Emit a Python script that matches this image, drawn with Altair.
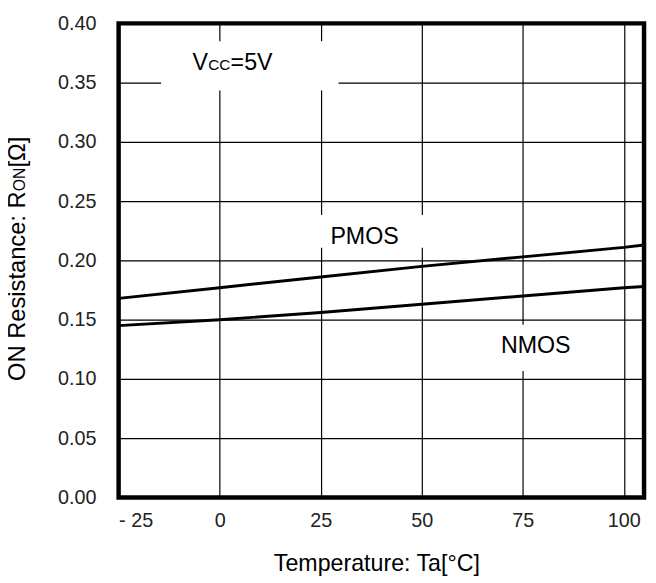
import altair as alt
import pandas as pd

# ---- data ----
temps = [-25, 0, 25, 50, 75, 100, 105]
pmos = [0.168, 0.177, 0.186, 0.195, 0.203, 0.211, 0.213]
nmos = [0.145, 0.150, 0.156, 0.163, 0.170, 0.177, 0.178]
x_ticks = [-25, 0, 25, 50, 75, 100]
y_ticks = [0.0, 0.05, 0.10, 0.15, 0.20, 0.25, 0.30, 0.35, 0.40]

series_names = ["PMOS", "NMOS"]

df = pd.DataFrame({
    "temp": temps + temps,
    "ron": pmos + nmos,
    "series": [series_names[0]] * len(temps) + [series_names[1]] * len(temps),
})

FONT = "Liberation Sans"
W, H = 532, 480

xscale = alt.Scale(domain=[-25, 105], nice=False, zero=False)
yscale = alt.Scale(domain=[0, 0.4], nice=False, zero=True)

x_axis = alt.Axis(
    values=x_ticks, title="Temperature: Ta[°C]", grid=True, ticks=False, domain=False,
    labelExpr="datum.value < 0 ? '- ' + format(-datum.value, 'd') : datum.label",
    labelPadding=13, titleX=261, titleY=74, titleBaseline="alphabetic",
    titleAlign="center", titleAnchor="start")
y_axis = alt.Axis(
    values=y_ticks, format=".2f", title=None, grid=True, ticks=False, domain=False,
    labelPadding=23)

lines = alt.Chart(df).mark_line(color="black", strokeWidth=3, clip=True).encode(
    x=alt.X("temp:Q", scale=xscale, axis=x_axis, title="Temperature: Ta[°C]"),
    y=alt.Y("ron:Q", scale=yscale, axis=y_axis, title=None),
    detail="series:N",
)

# white boxes behind the in-plot labels (interrupting the grid, like the reference)
box_df = pd.DataFrame({
    "x0": [-14.5, 22.6, 66.5],
    "x1": [29.4, 53.0, 89.6],
    "y0": [0.3433, 0.2108, 0.1067],
    "y1": [0.3850, 0.2383, 0.1458],
})
boxes = alt.Chart(box_df).mark_rect(color="white").encode(
    x=alt.X("x0:Q", scale=xscale, axis=x_axis, title="Temperature: Ta[°C]"), x2="x1:Q",
    y=alt.Y("y0:Q", scale=yscale, axis=y_axis, title=None), y2="y1:Q",
)

lab_df = pd.DataFrame({"label": series_names, "lx": [27.4, 69.6], "ly": [0.2140, 0.1217]})
labels = alt.Chart(lab_df).mark_text(
    font=FONT, fontSize=23.5, align="left", baseline="alphabetic", color="black"
).encode(
    x=alt.X("lx:Q", scale=xscale, axis=x_axis, title="Temperature: Ta[°C]"),
    y=alt.Y("ly:Q", scale=yscale, axis=y_axis, title=None),
    text="label:N",
)

def vtext(txt, size, dx):
    d = pd.DataFrame({"t": [txt], "vx": [-6.7], "vy": [0.3608]})
    return alt.Chart(d).mark_text(
        font=FONT, fontSize=size, align="left", baseline="alphabetic", color="black", dx=dx
    ).encode(
        x=alt.X("vx:Q", scale=xscale, axis=x_axis, title="Temperature: Ta[°C]"),
        y=alt.Y("vy:Q", scale=yscale, axis=y_axis, title=None),
        text="t:N",
    )

vcc = vtext("V", 23.5, 0) + vtext("CC", 15.5, 15.8) + vtext("=5V", 23.5, 38.5)

def ytitle(txt, size, ypos):
    d = pd.DataFrame({"t": [txt]})
    return alt.Chart(d).mark_text(
        font=FONT, fontSize=size, align="left", baseline="alphabetic", angle=270, color="black"
    ).encode(x=alt.value(-95), y=alt.value(ypos), text="t:N")

TS = 24
SS = 16
y_start = 362
p1 = 8.002 * TS
p2 = 1.5 * SS
yt = ytitle("ON Resistance: R", TS, y_start) + ytitle("ON", SS, y_start - p1) + ytitle("[Ω]", TS, y_start - p1 - p2)

chart = alt.layer(boxes, lines, labels, vcc, yt).properties(
    width=W, height=H,
    autosize=alt.AutoSizeParams(type="none"),
    padding={"left": 112, "top": 12, "right": 4, "bottom": 82},
    background="white",
).configure_view(
    stroke="black", strokeWidth=4.5
).configure_axis(
    gridColor="black", gridWidth=1.2, gridOpacity=1,
    labelFont=FONT, labelFontSize=20, labelColor="#222",
    titleFont=FONT, titleFontSize=23.5, titleColor="black", titleFontWeight="normal",
)

chart.save("out.html", embed_options={"renderer": "svg", "actions": False})
